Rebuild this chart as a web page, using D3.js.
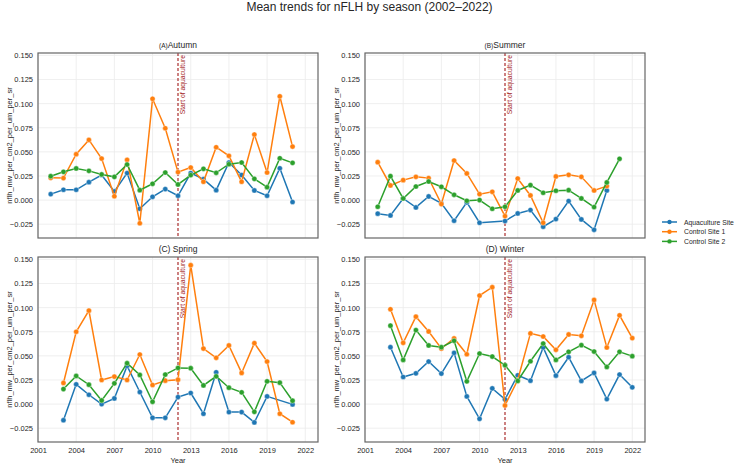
<!DOCTYPE html>
<html lang="en">
<head>
	<meta charset="utf-8">
	<title>Mean trends for nFLH by season</title>
	<script type="text/javascript" src="https://cdn.jsdelivr.net/npm/d3@7/dist/d3.min.js" charset="utf-8"></script>
	<style>
		body { margin: 0; background: white; }
		text { font-family: "Liberation Sans", Arial, sans-serif; fill: #262626; }
	</style>
</head>
<body>
<div id="chart">
<script type="text/javascript">

	// Years observed in each season
	var autumnYears = [2002, 2003, 2004, 2005, 2006, 2007, 2008, 2009, 2010, 2011, 2012, 2013, 2014, 2015, 2016, 2017, 2018, 2019, 2020, 2021];
	var summerYears = [2002, 2003, 2004, 2005, 2006, 2007, 2008, 2009, 2010, 2011, 2012, 2013, 2014, 2015, 2016, 2017, 2018, 2019, 2020, 2021];
	var springYears = [2003, 2004, 2005, 2006, 2007, 2008, 2009, 2010, 2011, 2012, 2013, 2014, 2015, 2016, 2017, 2018, 2019, 2020, 2021];
	var winterYears = [2003, 2004, 2005, 2006, 2007, 2008, 2009, 2010, 2011, 2012, 2013, 2014, 2015, 2016, 2017, 2018, 2019, 2020, 2021, 2022];

	// nFLH means per site (null = no value that year)
	var autumnAqua  = [0.0062, 0.0107, 0.0107, 0.0186, 0.0260, 0.0090, 0.0280, -0.0090, 0.0034, 0.0114, 0.0045, 0.0280, 0.0217, 0.0103, 0.0390, 0.0260, 0.0100, 0.0045, 0.0330, -0.0020];
	var autumnCtrl1 = [0.0231, 0.0228, 0.0476, 0.0624, 0.0430, 0.0040, 0.0417, -0.0240, 0.1050, 0.0745, 0.0290, 0.0338, 0.0190, 0.0548, 0.0459, 0.0190, 0.0680, 0.0286, 0.1076, 0.0555];
	var autumnCtrl2 = [0.0248, 0.0293, 0.0328, 0.0303, 0.0266, 0.0241, 0.0369, 0.0103, 0.0169, 0.0286, 0.0162, 0.0259, 0.0324, 0.0283, 0.0372, 0.0390, 0.0220, 0.0134, 0.0434, 0.0386];

	var summerAqua  = [-0.0141, -0.0159, 0.0017, -0.0076, 0.0038, -0.0034, -0.0214, -0.0024, -0.0235, null, -0.0217, -0.0138, -0.0103, -0.0276, -0.0197, -0.0010, -0.0200, -0.0308, 0.0100, null];
	var summerCtrl1 = [0.0393, 0.0152, 0.0207, 0.0241, 0.0228, -0.0041, 0.0410, 0.0276, 0.0062, 0.0086, -0.0166, 0.0224, 0.0048, -0.0235, 0.0245, 0.0262, 0.0241, 0.0100, 0.0145, null];
	var summerCtrl2 = [-0.0069, 0.0248, 0.0017, 0.0141, 0.0193, 0.0138, 0.0055, -0.0007, 0.0000, -0.0090, -0.0069, 0.0100, 0.0155, 0.0076, 0.0097, 0.0103, 0.0017, -0.0072, 0.0183, 0.0428];

	var springAqua  = [-0.0167, 0.0205, 0.0097, 0.0000, 0.0059, 0.0396, 0.0125, -0.0142, -0.0142, 0.0073, 0.0115, -0.0100, 0.0330, -0.0083, -0.0083, -0.0190, 0.0080, null, -0.0003];
	var springCtrl1 = [0.0219, 0.0750, 0.0969, 0.0250, 0.0285, 0.0250, 0.0514, 0.0198, 0.0243, 0.0253, 0.1440, 0.0576, 0.0480, 0.0608, 0.0323, 0.0632, 0.0441, -0.0100, -0.0188];
	var springCtrl2 = [0.0156, 0.0292, 0.0201, 0.0038, 0.0215, 0.0424, 0.0302, 0.0024, 0.0306, 0.0375, 0.0372, 0.0194, 0.0288, 0.0170, 0.0122, -0.0080, 0.0236, 0.0222, 0.0035];

	var winterAqua  = [0.0590, 0.0281, 0.0319, 0.0441, 0.0316, 0.0531, 0.0080, -0.0153, 0.0163, 0.0049, 0.0299, 0.0243, 0.0587, 0.0295, 0.0486, 0.0240, 0.0323, 0.0052, 0.0306, 0.0174];
	var winterCtrl1 = [0.0983, 0.0635, 0.0906, 0.0753, 0.0576, 0.0681, 0.0517, 0.1125, 0.1212, -0.0014, 0.0250, 0.0733, 0.0701, 0.0563, 0.0722, 0.0708, 0.1080, 0.0587, 0.0920, 0.0684];
	var winterCtrl2 = [0.0813, 0.0458, 0.0767, 0.0608, 0.0590, 0.0656, 0.0236, 0.0524, 0.0493, 0.0403, 0.0240, 0.0444, 0.0628, 0.0458, 0.0542, 0.0611, 0.0545, 0.0385, 0.0542, 0.0497];

	var siteNames = ["Aquaculture Site", "Control Site 1", "Control Site 2"];
	var siteColors = ["#1f77b4", "#ff7f0e", "#2ca02c"];

	var xTicks = [2001, 2004, 2007, 2010, 2013, 2016, 2019, 2022];
	var yTicks = [-0.025, 0.000, 0.025, 0.050, 0.075, 0.100, 0.125, 0.150];
	var aquacultureStart = 2012;

	// panel table built from the arrays above
	var panels = [
		{letter: "A", name: "Autumn", gap: "", years: autumnYears, series: [autumnAqua, autumnCtrl1, autumnCtrl2], col: 0, row: 0},
		{letter: "B", name: "Summer", gap: "", years: summerYears, series: [summerAqua, summerCtrl1, summerCtrl2], col: 1, row: 0},
		{letter: "C", name: "Spring", gap: " ", years: springYears, series: [springAqua, springCtrl1, springCtrl2], col: 0, row: 1},
		{letter: "D", name: "Winter", gap: " ", years: winterYears, series: [winterAqua, winterCtrl1, winterCtrl2], col: 1, row: 1}
	];

	// layout
	var panel_width = 280;
	var panel_height = 185;
	var panel_left = [38, 365];
	var panel_top = [53, 257];

	var svg = d3.select("#chart")
		.append("svg")
		.attr("width", 739)
		.attr("height", 464);

	svg.append("text")
		.attr("x", 369.5)
		.attr("y", 11)
		.attr("text-anchor", "middle")
		.style("font-size", "12px")
		.text("Mean trends for nFLH by season (2002\u20132022)");

	var xScale = d3.scaleLinear()
		.domain([2001, 2023])
		.range([0, panel_width]);

	var yScale = d3.scaleLinear()
		.domain([-0.0393, 0.1525])
		.range([panel_height, 0]);

	var line = d3.line()
		.defined(function(d){ return d.v !== null; })
		.x(function(d){ return xScale(d.year); })
		.y(function(d){ return yScale(d.v); });

	panels.forEach(function(p){

		var g = svg.append("g")
			.attr("transform", "translate(" + panel_left[p.col] + "," + panel_top[p.row] + ")");

		// grid lines
		g.selectAll(".xgrid")
			.data(xTicks)
			.enter()
				.append("line")
				.attr("x1", function(d){ return xScale(d); })
				.attr("x2", function(d){ return xScale(d); })
				.attr("y1", 0)
				.attr("y2", panel_height)
				.attr("stroke", "#ebebeb")
				.attr("stroke-width", 0.8);

		g.selectAll(".ygrid")
			.data(yTicks)
			.enter()
				.append("line")
				.attr("x1", 0)
				.attr("x2", panel_width)
				.attr("y1", function(d){ return yScale(d); })
				.attr("y2", function(d){ return yScale(d); })
				.attr("stroke", "#ebebeb")
				.attr("stroke-width", 0.8);

		// y axis labels
		var yAxis = d3.axisLeft(yScale)
			.tickValues(yTicks)
			.tickSize(0)
			.tickPadding(5)
			.tickFormat(function(d){ return d3.format(".3f")(d).replace("-", "\u2212"); });

		var ya = g.append("g").call(yAxis);
		ya.select(".domain").remove();
		ya.selectAll("text")
			.style("font-size", "7.5px")
			.attr("fill", "#262626")
			.style("font-family", "'Liberation Sans', Arial, sans-serif");

		// x axis labels only on the bottom row
		if (p.row == 1) {
			var xAxis = d3.axisBottom(xScale)
				.tickValues(xTicks)
				.tickSize(0)
				.tickPadding(6)
				.tickFormat(d3.format("d"));
			var xa = g.append("g")
				.attr("transform", "translate(0," + panel_height + ")")
				.call(xAxis);
			xa.select(".domain").remove();
			xa.selectAll("text")
				.style("font-size", "7.5px")
				.attr("fill", "#262626")
				.style("font-family", "'Liberation Sans', Arial, sans-serif");

			g.append("text")
				.attr("x", panel_width / 2)
				.attr("y", panel_height + 21)
				.attr("text-anchor", "middle")
				.style("font-size", "7.5px")
				.text("Year");
		}

		// y label
		g.append("text")
			.attr("transform", "translate(-26," + (panel_height / 2) + ") rotate(-90)")
			.attr("text-anchor", "middle")
			.style("font-size", "7.5px")
			.text("nflh_mw_per_cm2_per_um_per_sr");

		// panel title
		var title = g.append("text")
			.attr("x", panel_width / 2)
			.attr("y", -5)
			.attr("text-anchor", "middle")
			.style("font-size", "8.5px");
		title.append("tspan").style("font-size", p.gap == "" ? "6.5px" : "8.5px").text("(" + p.letter + ")");
		title.append("tspan").text(p.gap + p.name);

		// start of aquaculture marker
		g.append("line")
			.attr("x1", xScale(aquacultureStart))
			.attr("x2", xScale(aquacultureStart))
			.attr("y1", 0)
			.attr("y2", panel_height)
			.attr("stroke", "#a31a1a")
			.attr("stroke-width", 1.1)
			.attr("stroke-dasharray", "3,2");

		g.append("text")
			.attr("transform", "translate(" + (xScale(aquacultureStart) + 7) + ",2) rotate(-90)")
			.attr("text-anchor", "end")
			.style("font-size", "6.8px")
			.style("fill", "#a31a1a")
			.text("Start of aquaculture");

		// lines and markers for each site
		p.series.forEach(function(values, s){
			var pts = p.years.map(function(y, i){ return {year: y, v: values[i]}; })
				.filter(function(d){ return d.v !== null; });

			g.append("path")
				.datum(pts)
				.attr("d", line)
				.attr("fill", "none")
				.attr("stroke", siteColors[s])
				.attr("stroke-width", 1.5);

			g.selectAll(".dot" + s)
				.data(pts)
				.enter()
					.append("circle")
					.attr("cx", function(d){ return xScale(d.year); })
					.attr("cy", function(d){ return yScale(d.v); })
					.attr("r", 2.6)
					.attr("fill", siteColors[s])
					.attr("stroke", "white")
					.attr("stroke-width", 0.4);
		});

		// frame
		g.append("rect")
			.attr("x", 0)
			.attr("y", 0)
			.attr("width", panel_width)
			.attr("height", panel_height)
			.attr("fill", "none")
			.attr("stroke", "#666")
			.attr("stroke-width", 1.2);
	});

	// legend
	var legend = svg.append("g").attr("transform", "translate(662,222)");
	siteNames.forEach(function(name, i){
		var row = legend.append("g").attr("transform", "translate(0," + (i * 9.7) + ")");
		row.append("line")
			.attr("x1", 0).attr("x2", 15)
			.attr("y1", 0).attr("y2", 0)
			.attr("stroke", siteColors[i])
			.attr("stroke-width", 1.5);
		row.append("circle")
			.attr("cx", 7.5).attr("cy", 0)
			.attr("r", 2.2)
			.attr("fill", siteColors[i]);
		row.append("text")
			.attr("x", 22)
			.attr("y", 2.5)
			.style("font-size", "6.8px")
			.text(name);
	});

</script>
</div>
</body>
</html>
